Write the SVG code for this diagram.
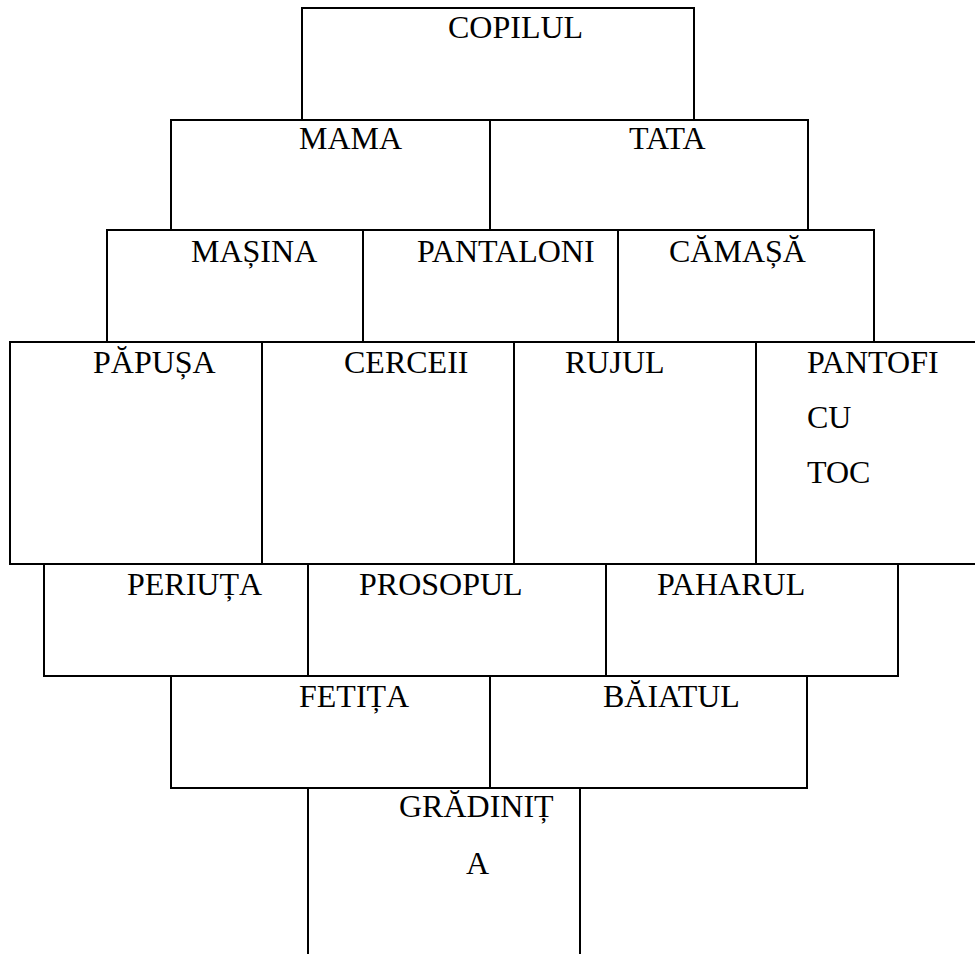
<svg xmlns="http://www.w3.org/2000/svg" width="975" height="954" viewBox="0 0 975 954">
<style>
.b{fill:none;stroke:#000;stroke-width:2}
text{font-family:'Liberation Serif','Times New Roman',Times,serif;font-size:32px;fill:#000}
</style>
<rect width="975" height="954" fill="#fff"/>
<g id="connectors"></g>
<g id="copilul"><rect class="b" x="302" y="8" width="392" height="112"/><text x="448" y="38">COPILUL</text></g>
<g id="mama"><rect class="b" x="171" y="120" width="319" height="110"/><text x="299" y="149">MAMA</text></g>
<g id="tata"><rect class="b" x="490" y="120" width="318" height="110"/><text x="629" y="149">TATA</text></g>
<g id="masina"><rect class="b" x="107" y="230" width="256" height="112"/><text x="191" y="262">MAȘINA</text></g>
<g id="pantaloni"><rect class="b" x="363" y="230" width="255" height="112"/><text x="417" y="262">PANTALONI</text></g>
<g id="camasa"><rect class="b" x="618" y="230" width="256" height="112"/><text x="669" y="262">CĂMAȘĂ</text></g>
<g id="papusa"><rect class="b" x="10" y="342" width="252" height="222"/><text x="93" y="373">PĂPUȘA</text></g>
<g id="cerceii"><rect class="b" x="262" y="342" width="252" height="222"/><text x="344" y="373">CERCEII</text></g>
<g id="rujul"><rect class="b" x="514" y="342" width="242" height="222"/><text x="565" y="373">RUJUL</text></g>
<g id="pantofi"><rect class="b" x="756" y="342" width="240" height="222"/><text x="807" y="373">PANTOFI</text><text x="807" y="428">CU</text><text x="807" y="483">TOC</text></g>
<g id="periuta"><rect class="b" x="44" y="564" width="264" height="112"/><text x="127" y="595">PERIUȚA</text></g>
<g id="prosopul"><rect class="b" x="308" y="564" width="298" height="112"/><text x="359" y="595">PROSOPUL</text></g>
<g id="paharul"><rect class="b" x="606" y="564" width="292" height="112"/><text x="657" y="595">PAHARUL</text></g>
<g id="fetita"><rect class="b" x="171" y="676" width="319" height="112"/><text x="299" y="707">FETIȚA</text></g>
<g id="baiatul"><rect class="b" x="490" y="676" width="317" height="112"/><text x="603" y="707">BĂIATUL</text></g>
<g id="gradinita"><rect class="b" x="308" y="788" width="272" height="200"/><text x="399" y="817">GRĂDINIȚ</text><text x="466" y="874">A</text></g>
</svg>
